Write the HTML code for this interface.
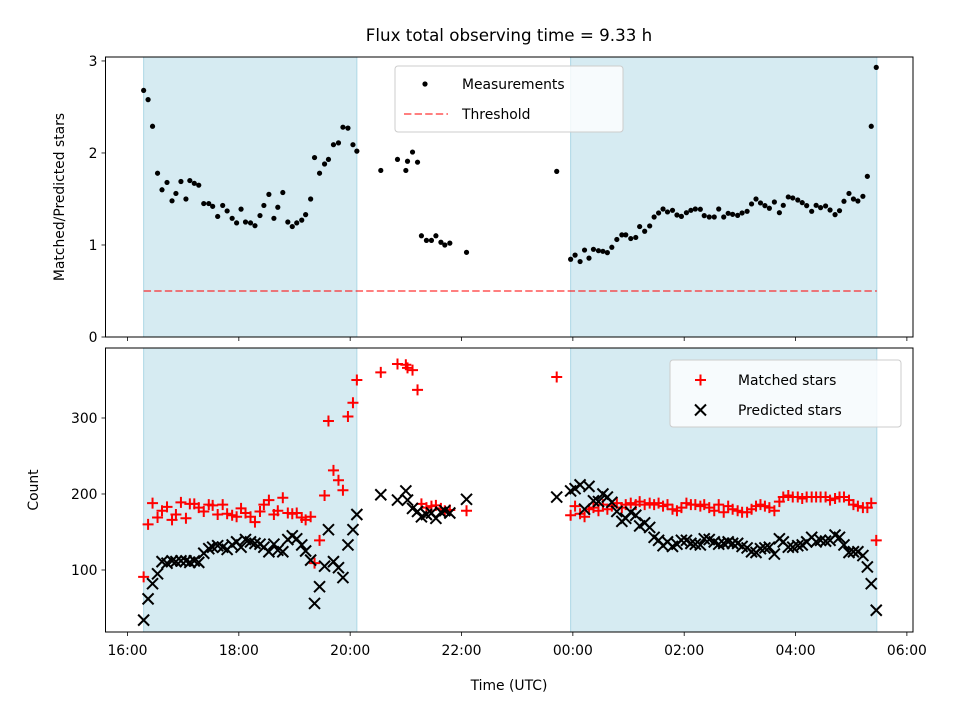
<!DOCTYPE html>
<html><head><meta charset="utf-8"><style>
html,body{margin:0;padding:0;background:#fff}
svg{display:block;font-family:"DejaVu Sans","Liberation Sans",sans-serif}
</style></head><body>
<svg id="chart" width="960" height="720" viewBox="0 0 960 720" xmlns="http://www.w3.org/2000/svg">
<text x="509" y="41" font-size="16.7" text-anchor="middle">Flux total observing time = 9.33 h</text>
<g id="top"></g><g id="bot"></g>
</svg>
<script>
// times in hours since 00:00 of first day (values > 24 are after midnight)
const times = [16.29,16.37,16.45,16.54,16.62,16.71,16.80,16.87,16.96,17.05,17.12,17.20,17.28,17.37,17.46,17.53,17.62,17.71,17.79,17.88,17.96,18.04,18.12,18.21,18.29,18.38,18.45,18.54,18.63,18.70,18.79,18.88,18.96,19.04,19.13,19.20,19.29,19.36,19.45,19.54,19.61,19.70,19.79,19.87,19.96,20.05,20.12,20.55,20.85,21.00,21.03,21.12,21.21,21.28,21.37,21.46,21.54,21.63,21.70,21.79,22.09,23.71,
23.96,24.04,24.13,24.21,24.29,24.37,24.46,24.54,24.62,24.70,24.79,24.88,24.95,25.04,25.13,25.20,25.29,25.38,25.46,25.54,25.62,25.70,25.79,25.87,25.95,26.04,26.12,26.20,26.29,26.36,26.45,26.54,26.62,26.71,26.79,26.87,26.96,27.04,27.13,27.21,27.29,27.37,27.45,27.53,27.62,27.71,27.78,27.87,27.95,28.04,28.12,28.20,28.29,28.37,28.45,28.54,28.62,28.71,28.79,28.87,28.96,29.04,29.12,29.21,29.29,29.36,29.45];
const ratio = [2.68,2.58,2.29,1.78,1.60,1.68,1.48,1.56,1.69,1.50,1.70,1.67,1.65,1.45,1.45,1.42,1.31,1.43,1.37,1.29,1.24,1.39,1.25,1.24,1.21,1.32,1.43,1.55,1.29,1.41,1.57,1.25,1.20,1.24,1.27,1.33,1.50,1.95,1.78,1.88,1.93,2.09,2.11,2.28,2.27,2.09,2.02,1.81,1.93,1.81,1.91,2.01,1.90,1.10,1.05,1.05,1.10,1.03,1.00,1.02,0.92,1.80,
0.845,0.89,0.82,0.945,0.857,0.953,0.938,0.931,0.917,0.975,1.06,1.11,1.11,1.07,1.082,1.20,1.149,1.207,1.304,1.348,1.391,1.359,1.377,1.326,1.311,1.351,1.377,1.391,1.388,1.319,1.304,1.304,1.391,1.304,1.344,1.333,1.322,1.348,1.366,1.446,1.500,1.457,1.428,1.399,1.467,1.351,1.431,1.522,1.511,1.489,1.460,1.428,1.366,1.431,1.406,1.424,1.380,1.330,1.373,1.475,1.560,1.500,1.478,1.529,1.746,2.29,2.93];
const matched = [91,160,188,169,178,183,166,173,189,168,187,187,182,177,186,185,173,186,174,172,170,181,175,170,163,177,186,192,173,178,195,175,174,175,169,166,170,109,139,198,296,231,218,205,302,320,350,360,371,370,366,363,337,187,182,184,185,181,178,179,178,354,
172,184,174,170,180,182,178,186,180,184,188,182,186,188,186,190,186,188,186,188,184,186,180,178,182,188,186,186,184,186,182,178,186,176,184,180,178,176,176,180,184,186,184,182,178,190,196,198,196,196,194,196,196,196,196,196,192,194,196,196,192,186,184,182,182,188,139];
const predicted = [34,62,82,95,111,109,112,111,112,112,110,112,110,122,128,130,132,130,127,133,137,130,140,137,135,134,130,124,134,126,124,140,145,141,133,125,113,56,78,105,153,111,103,90,133,153,173,199,192,204,192,181,177,170,173,175,168,176,178,175,193,196,
204,207,212,180,210,191,190,200,196,189,177,164,168,176,172,158,162,156,143,139,132,137,131,134,139,139,135,134,133,141,140,137,134,135,137,135,135,131,129,124,123,128,129,130,121,141,137,130,130,132,133,137,143,137,139,138,139,146,143,133,123,124,124,119,104,82,47];
const nightSpans = [[16.29,20.12],[23.96,29.46]];
const threshold = 0.5;
const xTicks = [16,18,20,22,24,26,28,30];
const xTickLabels = ["16:00","18:00","20:00","22:00","00:00","02:00","04:00","06:00"];
const topTicks = [0,1,2,3];
const botTicks = [100,200,300];

const NS="http://www.w3.org/2000/svg";
const L=105.5,R=913;
const xmin=15.605,xmax=30.11;
const X=t=>L+(t-xmin)/(xmax-xmin)*(R-L);
const T={top:57,bot:337,min:0,max:3.043};
const B={top:348,bot:632,min:18.4,max:392.1};
const Yt=v=>T.bot-(v-T.min)/(T.max-T.min)*(T.bot-T.top);
const Yb=v=>B.bot-(v-B.min)/(B.max-B.min)*(B.bot-B.top);
function mk(tag,attrs,parent){const e=document.createElementNS(NS,tag);for(const k in attrs)e.setAttribute(k,attrs[k]);parent.appendChild(e);return e;}
const gT=document.getElementById('top'),gB=document.getElementById('bot');

function panel(g,P,Y,ticks,ylabel,yname,prefix,showLabels){
  nightSpans.forEach((s,i)=>{
    const r=mk('rect',{x:X(s[0]),y:P.top,width:X(s[1])-X(s[0]),height:P.bot-P.top,fill:'#add8e6','fill-opacity':0.5,stroke:'#add8e6','stroke-width':1},g);
    
    
  });
  ticks.forEach(v=>{
    const y=Y(v);
    mk('line',{x1:L,x2:L-4,y1:y,y2:y,stroke:'#000','stroke-width':0.8},g);
    const t=mk('text',{x:L-8,y:y+5,'font-size':13.9,'text-anchor':'end'},g);t.textContent=String(v);
    
    
  });
  xTicks.forEach((v,i)=>{
    const x=X(v);
    mk('line',{x1:x,x2:x,y1:P.bot,y2:P.bot+4,stroke:'#000','stroke-width':0.8},g);
    if(showLabels){const t=mk('text',{x:x,y:P.bot+23,'font-size':13.9,'text-anchor':'middle'},g);t.textContent=xTickLabels[i];
      
      }
  });
  const yl=mk('text',{x:0,y:0,'font-size':13.9,'text-anchor':'middle',transform:`translate(${prefix==='top'?64:38},${(P.top+P.bot)/2}) rotate(-90)`},g);
  yl.textContent=ylabel;
  
  
}
panel(gT,T,Yt,topTicks,'Matched/Predicted stars','top-y-axis-title','top',false);
panel(gB,B,Yb,botTicks,'Count','bottom-y-axis-title','bottom',true);

const th=mk('line',{x1:X(16.29),x2:X(29.46),y1:Yt(threshold),y2:Yt(threshold),stroke:'#ff0000','stroke-opacity':0.5,'stroke-width':2,'stroke-dasharray':'7.4,3.2'},gT);


times.forEach((t,i)=>{
  const c=mk('circle',{cx:X(t),cy:Yt(ratio[i]),r:2.6,fill:'#000'},gT);
  
  
});
times.forEach((t,i)=>{
  const x=X(t),y=Yb(matched[i]),s=5.5;
  const p=mk('path',{d:`M${x-s},${y}H${x+s}M${x},${y-s}V${y+s}`,stroke:'#ff0000','stroke-width':2,fill:'none'},gB);
  
  
});
times.forEach((t,i)=>{
  const x=X(t),y=Yb(predicted[i]),s=5.5;
  const p=mk('path',{d:`M${x-s},${y-s}L${x+s},${y+s}M${x-s},${y+s}L${x+s},${y-s}`,stroke:'#000','stroke-width':2,fill:'none'},gB);
  
  
});
[[gT,T,'top-plot-frame'],[gB,B,'bottom-plot-frame']].forEach(a=>{
  const r=mk('rect',{x:L,y:a[1].top,width:R-L,height:a[1].bot-a[1].top,fill:'none',stroke:'#000','stroke-width':1},a[0]);
  
  
});
const xt=mk('text',{x:509,y:690,'font-size':13.9,'text-anchor':'middle'},gB);xt.textContent='Time (UTC)';



const lg1=mk('g',{},gT);


mk('rect',{x:395,y:66,width:228,height:66,rx:3,fill:'#fff','fill-opacity':0.8,stroke:'#ccc'},lg1);
mk('circle',{cx:425,cy:84,r:2.6,fill:'#000'},lg1);
let t1=mk('text',{x:462,y:89,'font-size':13.9},lg1);t1.textContent='Measurements';


mk('line',{x1:404,x2:448,y1:114,y2:114,stroke:'#ff0000','stroke-opacity':0.5,'stroke-width':2,'stroke-dasharray':'7.4,3.2'},lg1);
let t2=mk('text',{x:462,y:119,'font-size':13.9},lg1);t2.textContent='Threshold';



const lg2=mk('g',{},gB);


mk('rect',{x:670,y:360,width:231,height:67,rx:3,fill:'#fff','fill-opacity':0.8,stroke:'#ccc'},lg2);
mk('path',{d:'M695,380H706M700.5,374.5V385.5',stroke:'#ff0000','stroke-width':2},lg2);
let t3=mk('text',{x:738,y:385,'font-size':13.9},lg2);t3.textContent='Matched stars';


mk('path',{d:'M695,404.5L706,415.5M695,415.5L706,404.5',stroke:'#000','stroke-width':2},lg2);
let t4=mk('text',{x:738,y:415,'font-size':13.9},lg2);t4.textContent='Predicted stars';


</script>
</body></html>
